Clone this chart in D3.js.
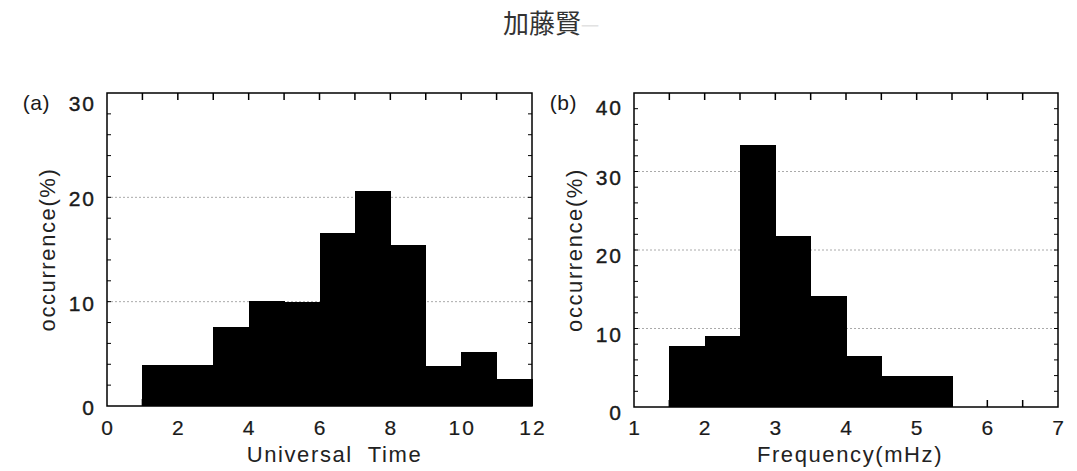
<!DOCTYPE html>
<head>
  <meta charset='utf-8'>
  <style>
    body { margin: 0; background: #fff; }
    svg { display: block; }
    .tick-label { font-family: 'Liberation Sans', Arial, sans-serif; font-size: 21px; fill: #1a1a1a; stroke: #1a1a1a; stroke-width: 0.4px; letter-spacing: 2px; }
    .axis-title { font-family: 'Liberation Sans', Arial, sans-serif; font-size: 22px; fill: #222; letter-spacing: 1.6px; }
    .grid { stroke: #aaa; stroke-width: 1; stroke-dasharray: 2,2; }
    .bar { shape-rendering: crispEdges; }
  </style>
</head>
<body>
<div id='vis'></div>
<script src='https://d3js.org/d3.v7.min.js'></script>
<script>
  const W = 1077, H = 471

  // panel (a): occurrence vs universal time, 1 hour bins
  const utBinStart = [0, 1, 2, 3, 4, 5, 6, 7, 8, 9, 10, 11]
  const utValues = [0, 3.9, 3.9, 7.6, 10.1, 10.0, 16.6, 20.6, 15.4, 3.8, 5.2, 2.6]
  const utTickLabels = [0, 2, 4, 6, 8, 10, 12]

  // panel (b): occurrence vs frequency, 0.5 mHz bins
  const freqBinStart = [1, 1.5, 2, 2.5, 3, 3.5, 4, 4.5, 5, 5.5, 6, 6.5]
  const freqValues = [0, 7.8, 9.1, 33.4, 21.8, 14.2, 6.5, 3.9, 3.9, 0, 0, 0]
  const freqTickLabels = [1, 2, 3, 4, 5, 6, 7]

  const panels = [
    { tag: '(a)', xs: utBinStart, vals: utValues, w: 1, xDom: [0, 12], yMax: 30,
      xLabels: utTickLabels, xMinor: 1, title: 'Universal  Time', titleDx: 15, labDy: 1,
      left: 107, right: 532, top: 93, bottom: 406 },
    { tag: '(b)', xs: freqBinStart, vals: freqValues, w: 0.5, xDom: [1, 7], yMax: 40,
      xLabels: freqTickLabels, xMinor: 0.5, title: 'Frequency(mHz)', titleDx: 4, labDy: 5,
      left: 634, right: 1058, top: 93, bottom: 407 }
  ]

  const svg = d3.select('#vis').append('svg')
    .attr('width', W).attr('height', H)

  // title
  const t = svg.append('text')
    .attr('x', 503).attr('y', 33)
    .style('font-family', "'Noto Sans CJK JP', sans-serif")
    .style('font-size', '26px')
    .style('fill', '#333')
  t.append('tspan').text('加藤賢')
  t.append('tspan').text('一').style('fill', '#e2e2e2').style('font-size', '18px')

  panels.forEach(p => drawPanel(p))

  function drawPanel(p) {
    const x = d3.scaleLinear().domain(p.xDom).range([p.left, p.right])
    const y = d3.scaleLinear().domain([0, p.yMax]).range([p.bottom, p.top])
    const g = svg.append('g')

    // dotted grid at major y ticks
    g.selectAll('.grid')
      .data(d3.range(10, p.yMax, 10))
      .enter().append('line')
      .attr('class', 'grid')
      .attr('x1', p.left).attr('x2', p.right)
      .attr('y1', d => y(d)).attr('y2', d => y(d))

    // bars
    g.selectAll('.bar')
      .data(p.xs.map((d, i) => ({ x0: d, v: p.vals[i] })))
      .enter().append('rect')
      .attr('class', 'bar')
      .attr('x', d => x(d.x0))
      .attr('width', d => x(d.x0 + p.w) - x(d.x0) + 0.5)
      .attr('y', d => y(d.v))
      .attr('height', d => y(0) - y(d.v))
      .attr('fill', '#000')

    // x ticks top and bottom (inside)
    const xt = d3.range(p.xDom[0] + p.xMinor, p.xDom[1] - 1e-9, p.xMinor)
    g.selectAll('.xt-top').data(xt).enter().append('line')
      .attr('x1', d => x(d)).attr('x2', d => x(d))
      .attr('y1', p.top).attr('y2', p.top + 7)
      .attr('stroke', '#000').attr('stroke-width', 1.5)
    g.selectAll('.xt-bot').data(xt).enter().append('line')
      .attr('x1', d => x(d)).attr('x2', d => x(d))
      .attr('y1', p.bottom).attr('y2', p.bottom - 7)
      .attr('stroke', '#000').attr('stroke-width', 1.5)

    // y ticks left and right (inside)
    const yt = d3.range(2, p.yMax, 2)
    g.selectAll('.yt-l').data(yt).enter().append('line')
      .attr('x1', p.left).attr('x2', p.left + 4)
      .attr('y1', d => y(d)).attr('y2', d => y(d))
      .attr('stroke', '#000').attr('stroke-width', 1)
    g.selectAll('.yt-r').data(yt).enter().append('line')
      .attr('x1', p.right).attr('x2', p.right - 4)
      .attr('y1', d => y(d)).attr('y2', d => y(d))
      .attr('stroke', '#000').attr('stroke-width', 1)

    // frame
    g.append('rect')
      .attr('x', p.left).attr('y', p.top)
      .attr('width', p.right - p.left).attr('height', p.bottom - p.top)
      .attr('fill', 'none').attr('stroke', '#000').attr('stroke-width', 1.5)

    // y tick labels (top one sits a bit lower, as in the print)
    g.selectAll('.ylab').data(d3.range(0, p.yMax + 1, 10)).enter().append('text')
      .attr('class', 'tick-label')
      .attr('x', p.left - 11)
      .attr('y', d => y(d) + 8 + p.labDy + (d === p.yMax ? 9 : 0))
      .attr('text-anchor', 'end')
      .text(d => d)

    // x tick labels
    g.selectAll('.xlab').data(p.xLabels).enter().append('text')
      .attr('class', 'tick-label')
      .attr('x', d => x(d) + 1).attr('y', 435)
      .attr('text-anchor', 'middle')
      .style('stroke-width', '0.2px')
      .text(d => d)

    // panel tag
    g.append('text')
      .attr('class', 'tick-label')
      .attr('x', p.left - 57).attr('y', p.top + 17)
      .attr('text-anchor', 'end')
      .style('letter-spacing', '0.5px')
      .style('stroke-width', '0px')
      .text(p.tag)

    // axis titles
    g.append('text')
      .attr('class', 'axis-title')
      .attr('x', (p.left + p.right) / 2 + p.titleDx).attr('y', 462)
      .attr('text-anchor', 'middle')
      .style('white-space', 'pre')
      .text(p.title)

    g.append('text')
      .attr('class', 'axis-title')
      .attr('transform', `translate(${p.left - 52}, ${(p.top + p.bottom) / 2}) rotate(-90)`)
      .attr('text-anchor', 'middle')
      .text('occurrence(%)')
  }
</script>
</body>
